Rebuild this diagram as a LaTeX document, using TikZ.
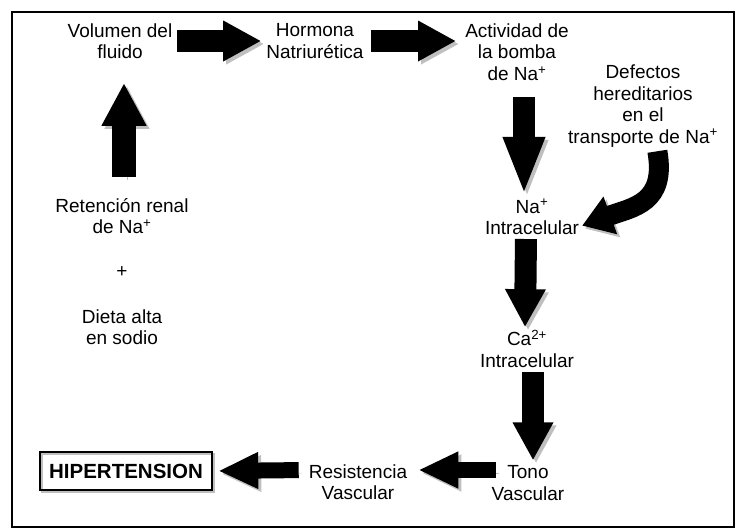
\documentclass[tikz,border=0pt]{standalone}
\usepackage{fontspec}
\setmainfont{Liberation Sans}
\usetikzlibrary{arrows.meta}

\begin{document}
\begin{tikzpicture}
	[x=1pt,y=-1pt,font=\fontsize{19}{21.5}\selectfont,
		text node/.style={align=center,inner sep=2pt},
		end node/.style={draw,line width=2.5pt,minimum width=172pt,minimum height=38pt,inner sep=0pt,
			font=\fontsize{20.5}{22}\selectfont\bfseries,
			preaction={draw=gray!50,transform canvas={shift={(2pt,-2pt)}}}},
		block arrow/.style={line width=22pt,-{Triangle[length=38pt,width=38pt]},
			preaction={draw=gray!50,transform canvas={shift={(3pt,-3pt)}}}},
		thin arrow/.style={block arrow,line width=16pt,-{Triangle[length=40pt,width=34pt]}}]

	\useasboundingbox (0,0) rectangle (737,528);
	\draw[line width=2pt] (12,12) rectangle (734,527);

	\node[text node] (vol)    at (120,41)  {Volumen del\\fluido};
	\node[text node] (horm)   at (315,41)  {Hormona\\Natriurética};
	\node[text node] (activ)  at (517,52)  {Actividad de\\la bomba\\de Na\textsuperscript{+}};
	\node[text node] (defect) at (643,106) {Defectos\\hereditarios\\en el\\transporte de Na\textsuperscript{+}};
	\node[text node] (na)     at (532,217) {Na\textsuperscript{+}\\Intracelular};
	\node[text node] (ca)     at (527,349) {Ca\textsuperscript{2+}\\Intracelular};
	\node[text node] (tono)   at (528,483) {Tono\\Vascular};
	\node[text node] (resist) at (358,482) {Resistencia\\Vascular};
	\node[end node]  (hiper)  at (126,471) {HIPERTENSION};
	\node[text node] (reten)  at (122,216) {Retención renal\\de Na\textsuperscript{+}};
	\node[text node] (plus)   at (122,272) {+};
	\node[text node] (dieta)  at (122,327) {Dieta alta\\en sodio};

	\path[]
	(vol.east) edge [block arrow, shorten <=3pt, shorten >=3pt] (horm.west)
	(horm.east) edge [block arrow, shorten <=5pt, shorten >=7pt] (horm.east -| activ.west)
	([xshift=7pt]activ.south) edge [block arrow, -{Triangle[length=58pt,width=38pt]},
		shorten <=14pt, shorten >=2pt] ([xshift=-8pt]na.north)
	([xshift=-6pt]na.south) edge [block arrow, shorten <=2pt, shorten >=1pt] ([xshift=-2pt]ca.north)
	([xshift=6pt]ca.south) edge [block arrow, shorten <=2pt, shorten >=3pt] ([xshift=5pt]tono.north)
	([yshift=13pt]tono.west) edge [thin arrow, shorten <=-6pt, shorten >=9pt] ([yshift=12pt]resist.east)
	([yshift=12pt]resist.west) edge [thin arrow, shorten <=8pt, shorten >=5pt] (hiper.east)
	([xshift=2pt]reten.north) edge [block arrow, line width=24pt, -{Triangle[length=43pt,width=42pt]},
		shorten <=19pt, shorten >=22pt] ([xshift=4pt]vol.south)
	([xshift=14pt]defect.south) edge [block arrow, line width=20pt, -{Triangle[length=30pt,width=38pt]},
		out=-80, in=20, looseness=1.3, shorten <=2pt, shorten >=1pt] ([yshift=-9pt]na.east)
	;

\end{tikzpicture}
\end{document}
